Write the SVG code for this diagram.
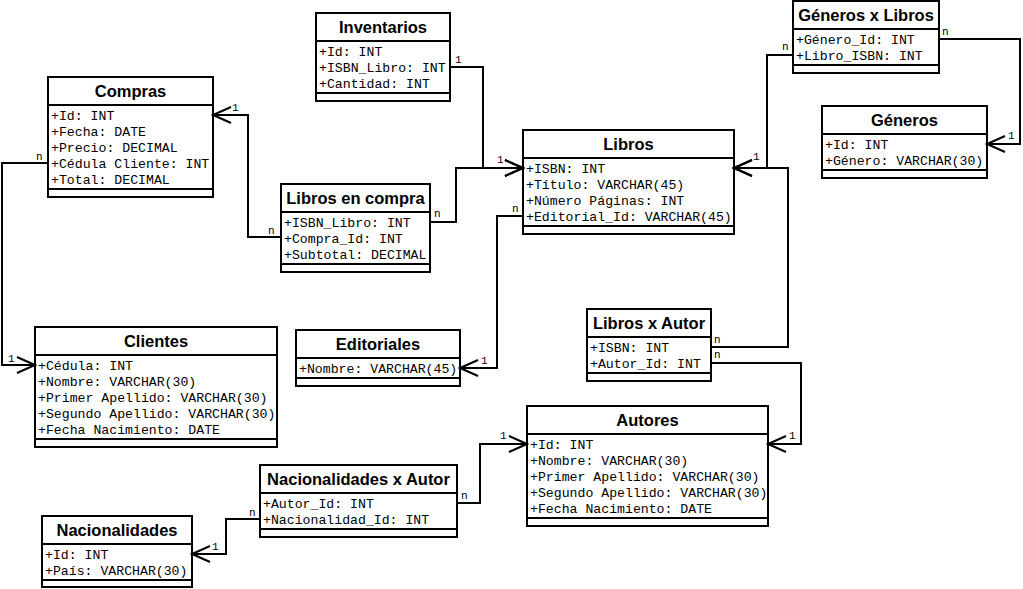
<svg xmlns="http://www.w3.org/2000/svg" width="1023" height="589" viewBox="0 0 1023 589">
<style>
.box{fill:#fff;stroke:#000;stroke-width:2}
.ln{stroke:#000;stroke-width:2}
.t{font-family:"Liberation Sans",Arial,sans-serif;font-weight:bold;font-size:16.5px;text-anchor:middle;fill:#000}
.a{font-family:"Liberation Mono","Courier New",monospace;font-size:13.2px;fill:#000}
.c{fill:none;stroke:#000;stroke-width:2}
.m{font-family:"Liberation Mono","Courier New",monospace;font-size:11px;fill:#000}
</style>
<defs>
<marker id="arr" markerUnits="userSpaceOnUse" viewBox="-22 -11 24 22" markerWidth="24" markerHeight="22" refX="0" refY="0" orient="auto">
<path d="M-18,-8 L0,0 L-18,8" fill="none" stroke="#000" stroke-width="2"/>
</marker>
</defs>
<rect width="1023" height="589" fill="#fff"/>

<g id="compras">
<rect class="box" x="48" y="77" width="165" height="120"/>
<line class="ln" x1="48" y1="105" x2="213" y2="105"/>
<line class="ln" x1="48" y1="189" x2="213" y2="189"/>
<text class="t" x="130.5" y="97">Compras</text>
<text class="a" x="51" y="119.5">+Id: INT</text>
<text class="a" x="51" y="135.5">+Fecha: DATE</text>
<text class="a" x="51" y="151.5">+Precio: DECIMAL</text>
<text class="a" x="51" y="167.5">+Cédula Cliente: INT</text>
<text class="a" x="51" y="183.5">+Total: DECIMAL</text>
</g>

<g id="inventarios">
<rect class="box" x="316" y="13" width="134" height="88"/>
<line class="ln" x1="316" y1="41" x2="450" y2="41"/>
<line class="ln" x1="316" y1="93" x2="450" y2="93"/>
<text class="t" x="383" y="33">Inventarios</text>
<text class="a" x="319" y="55.5">+Id: INT</text>
<text class="a" x="319" y="71.5">+ISBN_Libro: INT</text>
<text class="a" x="319" y="87.5">+Cantidad: INT</text>
</g>

<g id="libros">
<rect class="box" x="523" y="130" width="211" height="104"/>
<line class="ln" x1="523" y1="158" x2="734" y2="158"/>
<line class="ln" x1="523" y1="226" x2="734" y2="226"/>
<text class="t" x="628.5" y="150">Libros</text>
<text class="a" x="526" y="172.5">+ISBN: INT</text>
<text class="a" x="526" y="188.5">+Título: VARCHAR(45)</text>
<text class="a" x="526" y="204.5">+Número Páginas: INT</text>
<text class="a" x="526" y="220.5">+Editorial_Id: VARCHAR(45)</text>
</g>

<g id="generos-x-libros">
<rect class="box" x="793" y="1" width="146" height="72"/>
<line class="ln" x1="793" y1="29" x2="939" y2="29"/>
<line class="ln" x1="793" y1="65" x2="939" y2="65"/>
<text class="t" x="866" y="21">Géneros x Libros</text>
<text class="a" x="796" y="43.5">+Género_Id: INT</text>
<text class="a" x="796" y="59.5">+Libro_ISBN: INT</text>
</g>

<g id="generos">
<rect class="box" x="822" y="106" width="165" height="72"/>
<line class="ln" x1="822" y1="134" x2="987" y2="134"/>
<line class="ln" x1="822" y1="170" x2="987" y2="170"/>
<text class="t" x="904.5" y="126">Géneros</text>
<text class="a" x="825" y="148.5">+Id: INT</text>
<text class="a" x="825" y="164.5">+Género: VARCHAR(30)</text>
</g>

<g id="clientes">
<rect class="box" x="35" y="327" width="242" height="120"/>
<line class="ln" x1="35" y1="355" x2="277" y2="355"/>
<line class="ln" x1="35" y1="439" x2="277" y2="439"/>
<text class="t" x="156" y="347">Clientes</text>
<text class="a" x="38" y="369.5">+Cédula: INT</text>
<text class="a" x="38" y="385.5">+Nombre: VARCHAR(30)</text>
<text class="a" x="38" y="401.5">+Primer Apellido: VARCHAR(30)</text>
<text class="a" x="38" y="417.5">+Segundo Apellido: VARCHAR(30)</text>
<text class="a" x="38" y="433.5">+Fecha Nacimiento: DATE</text>
</g>

<g id="libros-en-compra">
<rect class="box" x="281" y="184" width="149" height="88"/>
<line class="ln" x1="281" y1="212" x2="430" y2="212"/>
<line class="ln" x1="281" y1="264" x2="430" y2="264"/>
<text class="t" x="355.5" y="204">Libros en compra</text>
<text class="a" x="284" y="226.5">+ISBN_Libro: INT</text>
<text class="a" x="284" y="242.5">+Compra_Id: INT</text>
<text class="a" x="284" y="258.5">+Subtotal: DECIMAL</text>
</g>

<g id="editoriales">
<rect class="box" x="296" y="330" width="164" height="56"/>
<line class="ln" x1="296" y1="358" x2="460" y2="358"/>
<line class="ln" x1="296" y1="378" x2="460" y2="378"/>
<text class="t" x="378" y="350">Editoriales</text>
<text class="a" x="299" y="372.5">+Nombre: VARCHAR(45)</text>
</g>

<g id="libros-x-autor">
<rect class="box" x="587" y="309" width="124" height="72"/>
<line class="ln" x1="587" y1="337" x2="711" y2="337"/>
<line class="ln" x1="587" y1="373" x2="711" y2="373"/>
<text class="t" x="649" y="329">Libros x Autor</text>
<text class="a" x="590" y="351.5">+ISBN: INT</text>
<text class="a" x="590" y="367.5">+Autor_Id: INT</text>
</g>

<g id="autores">
<rect class="box" x="527" y="406" width="241" height="120"/>
<line class="ln" x1="527" y1="434" x2="768" y2="434"/>
<line class="ln" x1="527" y1="518" x2="768" y2="518"/>
<text class="t" x="647.5" y="426">Autores</text>
<text class="a" x="530" y="448.5">+Id: INT</text>
<text class="a" x="530" y="464.5">+Nombre: VARCHAR(30)</text>
<text class="a" x="530" y="480.5">+Primer Apellido: VARCHAR(30)</text>
<text class="a" x="530" y="496.5">+Segundo Apellido: VARCHAR(30)</text>
<text class="a" x="530" y="512.5">+Fecha Nacimiento: DATE</text>
</g>

<g id="nacionalidades-x-autor">
<rect class="box" x="260" y="465" width="197" height="72"/>
<line class="ln" x1="260" y1="493" x2="457" y2="493"/>
<line class="ln" x1="260" y1="529" x2="457" y2="529"/>
<text class="t" x="358.5" y="485">Nacionalidades x Autor</text>
<text class="a" x="263" y="507.5">+Autor_Id: INT</text>
<text class="a" x="263" y="523.5">+Nacionalidad_Id: INT</text>
</g>

<g id="nacionalidades">
<rect class="box" x="42" y="516" width="150" height="71"/>
<line class="ln" x1="42" y1="544" x2="192" y2="544"/>
<line class="ln" x1="42" y1="580" x2="192" y2="580"/>
<text class="t" x="117" y="536">Nacionalidades</text>
<text class="a" x="45" y="558.5">+Id: INT</text>
<text class="a" x="45" y="574.5">+País: VARCHAR(30)</text>
</g>

<g id="connectors">
<path class="c" d="M281,237 H248 V115 H213" marker-end="url(#arr)"/>
<path class="c" d="M430,222 H456 V168 H523" marker-end="url(#arr)"/>
<path class="c" d="M450,67 H483 V168 H523" marker-end="url(#arr)"/>
<path class="c" d="M523,216 H497 V368 H460" marker-end="url(#arr)"/>
<path class="c" d="M793,55 H767 V168 H734" marker-end="url(#arr)"/>
<path class="c" d="M711,347 H788 V168 H734" marker-end="url(#arr)"/>
<path class="c" d="M939,39 H1020 V144 H987" marker-end="url(#arr)"/>
<path class="c" d="M711,363 H801 V444 H768" marker-end="url(#arr)"/>
<path class="c" d="M457,503 H480 V444 H527" marker-end="url(#arr)"/>
<path class="c" d="M260,519 H226 V554 H192" marker-end="url(#arr)"/>
<path class="c" d="M48,163 H2 V365 H35" marker-end="url(#arr)"/>
<text class="m" x="232" y="111">1</text>
<text class="m" x="268" y="234">n</text>
<text class="m" x="434" y="217">n</text>
<text class="m" x="497" y="163">1</text>
<text class="m" x="455" y="63">1</text>
<text class="m" x="512" y="212">n</text>
<text class="m" x="481" y="364">1</text>
<text class="m" x="753" y="160">1</text>
<text class="m" x="782" y="50">n</text>
<text class="m" x="942" y="35">n</text>
<text class="m" x="1008" y="139">1</text>
<text class="m" x="714" y="343">n</text>
<text class="m" x="714" y="358">n</text>
<text class="m" x="789" y="439">1</text>
<text class="m" x="461" y="499">n</text>
<text class="m" x="500" y="439">1</text>
<text class="m" x="249" y="516">n</text>
<text class="m" x="212" y="550">1</text>
<text class="m" x="36" y="160">n</text>
<text class="m" x="8" y="362">1</text>
</g>
</svg>
